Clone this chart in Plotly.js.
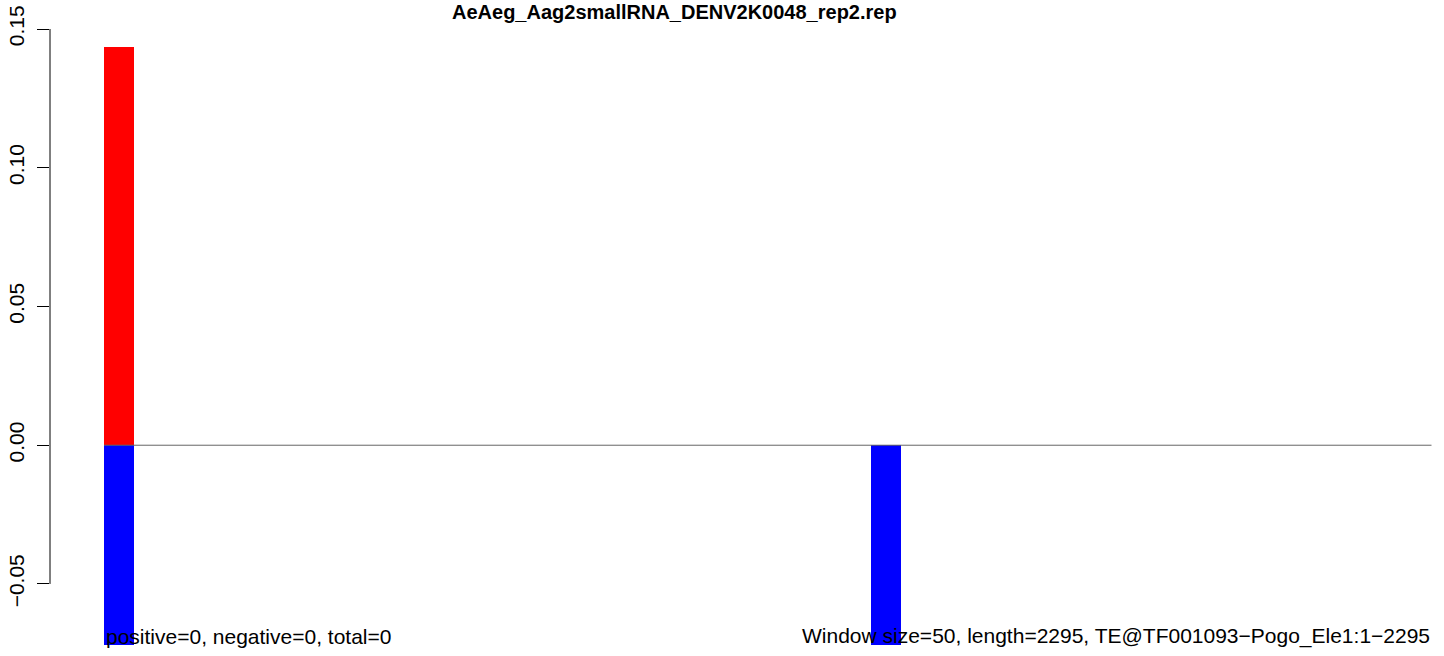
<!DOCTYPE html>
<html>
<head>
<meta charset="utf-8">
<script src="https://cdn.plot.ly/plotly-3.0.1.min.js"></script>
<style>html,body{margin:0;padding:0;background:#fff;}#chart{width:1444px;height:656px;}</style>
</head>
<body>
<div id="chart"></div>
<script>
const titleText = "AeAeg_Aag2smallRNA_DENV2K0048_rep2.rep";
const leftNote = "positive=0, negative=0, total=0";
const rightNote = "Window size=50, length=2295, TE@TF001093\u2212Pogo_Ele1:1\u22122295";
const windows = [1,2,3,4,5,6,7,8,9,10,11,12,13,14,15,16,17,18,19,20,21,22,23,24,25,26,27,28,29,30,31,32,33,34,35,36,37,38,39,40,41,42,43,44,45];
const positiveValues = [0.1435,0,0,0,0,0,0,0,0,0,0,0,0,0,0,0,0,0,0,0,0,0,0,0,0,0,0,0,0,0,0,0,0,0,0,0,0,0,0,0,0,0,0,0,0];
const negativeValues = [-0.072,0,0,0,0,0,0,0,0,0,0,0,0,0,0,0,0,0,0,0,0,0,0,0,0,0,-0.072,0,0,0,0,0,0,0,0,0,0,0,0,0,0,0,0,0,0];
const yTickVals = [-0.05, 0, 0.05, 0.10, 0.15];
const yTickText = ["\u22120.05", "0.00", "0.05", "0.10", "0.15"];

const FONT = "Liberation Sans, Arial, Helvetica, sans-serif";

const traces = [
  {type: "bar", x: windows, y: positiveValues, width: 1.02, marker: {color: "#ff0000", line: {width: 0}}, hoverinfo: "x+y"},
  {type: "bar", x: windows, y: negativeValues, width: 1.02, marker: {color: "#0000ff", line: {width: 0}}, hoverinfo: "x+y"}
];

const layout = {
  width: 1444, height: 656,
  margin: {l: 50, r: 12, t: 29, b: 11, pad: 0},
  paper_bgcolor: "#ffffff", plot_bgcolor: "#ffffff",
  barmode: "relative", bargap: 0,
  showlegend: false,
  font: {family: FONT, size: 21, color: "#000000"},
  xaxis: {range: [-1.331, 45.517], visible: false, fixedrange: true},
  yaxis: {
    range: [-0.072, 0.15], showgrid: false, zeroline: false, showline: false,
    tickmode: "array", tickvals: yTickVals, ticktext: yTickText,
    ticks: "outside", ticklen: 12, tickwidth: 1, tickcolor: "#000000",
    tickangle: -90, ticklabelstandoff: 5, tickfont: {family: FONT, size: 21, color: "#000000"},
    fixedrange: true
  },
  shapes: [
    {type: "line", xref: "paper", yref: "y", x0: 0, x1: 0, y0: -0.05, y1: 0.15, line: {color: "#000000", width: 1}},
    {type: "line", xref: "x", yref: "y", x0: 0.5, x1: 45.5, y0: 0, y1: 0, line: {color: "#666666", width: 1}}
  ],
  annotations: [
    {text: "<b>" + titleText + "</b>", xref: "paper", yref: "paper", x: 0.4522, y: 1.0276, xanchor: "center", yanchor: "middle", showarrow: false, font: {family: FONT, size: 20, color: "#000000"}},
    {text: leftNote, xref: "paper", yref: "paper", x: 0.0391, y: 0.0146, xanchor: "left", yanchor: "middle", showarrow: false, font: {family: FONT, size: 21, color: "#000000"}},
    {text: rightNote, xref: "paper", yref: "paper", x: 1, y: 0.0146, xanchor: "right", yanchor: "middle", showarrow: false, font: {family: FONT, size: 21, color: "#000000"}}
  ]
};

Plotly.newPlot("chart", traces, layout, {displayModeBar: false, staticPlot: true});
</script>
</body>
</html>
